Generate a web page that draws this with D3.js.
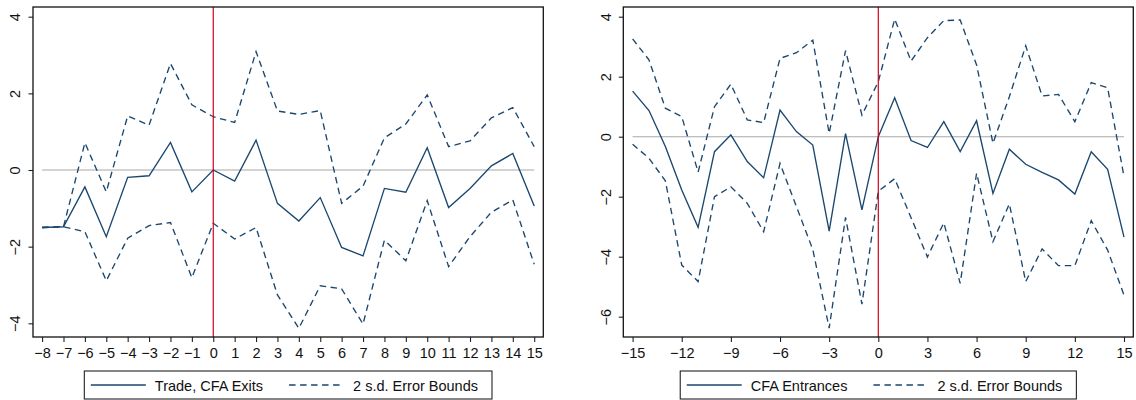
<!DOCTYPE html>
<html>
<head>
<meta charset="utf-8">
<script src="https://cdn.jsdelivr.net/npm/d3@7/dist/d3.min.js"></script>
<style>
  html, body { margin: 0; padding: 0; background: #fff; }
  svg { display: block; }
  text { font-family: "Liberation Sans", Arial, Helvetica, sans-serif; fill: #111; }
</style>
</head>
<body>
<svg id="chart" width="1136" height="400"></svg>
<script>
// ---------------- data ----------------
const leftX = [-8,-7,-6,-5,-4,-3,-2,-1,0,1,2,3,4,5,6,7,8,9,10,11,12,13,14,15];
const leftCoef  = [-1.50,-1.48,-0.44,-1.74,-0.19,-0.15,0.72,-0.57,0.00,-0.29,0.78,-0.87,-1.33,-0.72,-2.02,-2.24,-0.48,-0.58,0.58,-0.98,-0.48,0.11,0.43,-0.94];
const leftUpper = [-1.50,-1.48,0.71,-0.57,1.41,1.17,2.78,1.70,1.39,1.24,3.09,1.54,1.45,1.55,-0.87,-0.42,0.84,1.20,1.96,0.61,0.76,1.36,1.63,0.61];
const leftLower = [-1.50,-1.48,-1.61,-2.89,-1.78,-1.45,-1.37,-2.81,-1.39,-1.80,-1.50,-3.26,-4.13,-3.02,-3.10,-4.02,-1.83,-2.37,-0.80,-2.52,-1.74,-1.10,-0.78,-2.46];
const leftXTicks = [-8,-7,-6,-5,-4,-3,-2,-1,0,1,2,3,4,5,6,7,8,9,10,11,12,13,14,15];
const leftYTicks = [-4,-2,0,2,4];
const leftLegend = ["Trade, CFA Exits", "2 s.d. Error Bounds"];

const rightX = [-15,-14,-13,-12,-11,-10,-9,-8,-7,-6,-5,-4,-3,-2,-1,0,1,2,3,4,5,6,7,8,9,10,11,12,13,14,15];
const rightCoef  = [1.52,0.87,-0.33,-1.78,-3.02,-0.50,0.06,-0.83,-1.37,0.89,0.17,-0.28,-3.15,0.10,-2.44,0.00,1.30,-0.13,-0.36,0.50,-0.50,0.53,-1.89,-0.42,-0.92,-1.19,-1.44,-1.91,-0.50,-1.09,-3.35];
const rightUpper = [3.26,2.56,0.95,0.67,-1.18,1.00,1.75,0.56,0.47,2.61,2.80,3.22,0.11,2.87,0.72,1.83,3.92,2.52,3.30,3.87,3.89,2.39,-0.22,1.33,3.03,1.36,1.41,0.50,1.80,1.63,-1.33];
const rightLower = [-0.25,-0.72,-1.47,-4.28,-4.83,-2.00,-1.67,-2.22,-3.17,-0.89,-2.33,-3.76,-6.38,-2.69,-5.58,-1.82,-1.40,-2.70,-4.01,-2.87,-4.89,-1.22,-3.50,-2.24,-4.83,-3.74,-4.30,-4.30,-2.80,-3.78,-5.28];
const rightXTicks = [-15,-12,-9,-6,-3,0,3,6,9,12,15];
const rightYTicks = [-6,-4,-2,0,2,4];
const rightLegend = ["CFA Entrances", "2 s.d. Error Bounds"];

// ---------------- drawing ----------------
const svg = d3.select("#chart");
const NAVY = "#1a476f";
const FONT = 14.5;

function panel(cfg) {
  const g = svg.append("g");
  const x = d3.scaleLinear().domain(d3.extent(cfg.xs)).range([cfg.left + cfg.padX, cfg.right - cfg.padX]);
  const y = d3.scaleLinear().domain(cfg.yDomain).range([cfg.bottom, cfg.top]);

  // zero line
  g.append("line")
    .attr("x1", x(d3.min(cfg.xs))).attr("x2", x(d3.max(cfg.xs)))
    .attr("y1", y(0)).attr("y2", y(0))
    .attr("stroke", "#a8a8a8").attr("stroke-width", 1.1);

  const line = d3.line().x(d => x(d[0])).y(d => y(d[1]));
  const series = [
    {vals: cfg.upper, dash: "6.5,4.5"},
    {vals: cfg.lower, dash: "6.5,4.5"},
    {vals: cfg.coef, dash: null}
  ];
  series.forEach(s => {
    g.append("path")
      .datum(cfg.xs.map((xv, i) => [xv, s.vals[i]]))
      .attr("d", line)
      .attr("fill", "none")
      .attr("stroke", NAVY)
      .attr("stroke-width", 1.35)
      .attr("stroke-linejoin", "miter")
      .attr("stroke-dasharray", s.dash);
  });

  // red vertical line at 0
  g.append("line")
    .attr("x1", x(0)).attr("x2", x(0))
    .attr("y1", cfg.top).attr("y2", cfg.bottom)
    .attr("stroke", "#d0021b").attr("stroke-width", 1.2);

  // axes
  const xAxis = g.append("g")
    .attr("transform", `translate(0,${cfg.bottom})`)
    .call(d3.axisBottom(x).tickValues(cfg.xTicks).tickSize(5).tickPadding(5.7).tickFormat(d3.format("d")));
  xAxis.select(".domain").remove();
  xAxis.selectAll("text").style("font-size", FONT + "px").attr("fill", "#111")
       .style("font-family", '"Liberation Sans", Arial, sans-serif');
  xAxis.selectAll("line").attr("stroke", "#222").attr("stroke-width", 1.1);

  const yAxis = g.append("g")
    .attr("transform", `translate(${cfg.left},0)`)
    .call(d3.axisLeft(y).tickValues(cfg.yTicks).tickSize(4.5).tickFormat(d3.format("d")));
  yAxis.select(".domain").remove();
  yAxis.selectAll("line").attr("stroke", "#222").attr("stroke-width", 1.1);
  yAxis.selectAll("text")
    .attr("x", null).attr("dy", null)
    .attr("text-anchor", "middle")
    .attr("transform", `translate(${-cfg.yLabOff},0) rotate(-90)`)
    .attr("fill", "#111")
    .style("font-size", FONT + "px")
    .style("font-family", '"Liberation Sans", Arial, sans-serif');

  // frame
  g.append("rect")
    .attr("x", cfg.left).attr("y", cfg.top)
    .attr("width", cfg.right - cfg.left).attr("height", cfg.bottom - cfg.top)
    .attr("fill", "none").attr("stroke", "#111").attr("stroke-width", 1.3);

  // legend
  const lg = g.append("g");
  const sample = 55, gapT = 9, gapItem = 26, padL = 6.5, padR = 14;
  const ly = 385;
  const t1 = lg.append("text").text(cfg.legend[0]).style("font-size", FONT + "px");
  const t2 = lg.append("text").text(cfg.legend[1]).style("font-size", FONT + "px");
  const w1 = t1.node().getComputedTextLength();
  const w2 = t2.node().getComputedTextLength();
  const boxW = padL + sample + gapT + w1 + gapItem + sample + gapT + w2 + padR;
  const cx = (cfg.left + cfg.right) / 2;
  const bx = cx - boxW / 2;
  lg.insert("rect", "text")
    .attr("x", bx).attr("y", 371).attr("width", boxW).attr("height", 28)
    .attr("fill", "#fff").attr("stroke", "#222").attr("stroke-width", 1.1);
  let px = bx + padL;
  lg.append("line").attr("x1", px).attr("x2", px + sample).attr("y1", ly).attr("y2", ly)
    .attr("stroke", NAVY).attr("stroke-width", 1.35);
  t1.attr("x", px + sample + gapT).attr("y", ly + 5.5);
  px = px + sample + gapT + w1 + gapItem;
  lg.append("line").attr("x1", px).attr("x2", px + sample).attr("y1", ly).attr("y2", ly)
    .attr("stroke", NAVY).attr("stroke-width", 1.35).attr("stroke-dasharray", "6.5,4.5");
  t2.attr("x", px + sample + gapT).attr("y", ly + 5.5);
}

panel({
  xs: leftX, coef: leftCoef, upper: leftUpper, lower: leftLower,
  xTicks: leftXTicks, yTicks: leftYTicks, legend: leftLegend,
  left: 33, right: 543.3, top: 7, bottom: 337, padX: 9.1,
  yDomain: [-4.357, 4.253], yLabOff: 13
});

panel({
  xs: rightX, coef: rightCoef, upper: rightUpper, lower: rightLower,
  xTicks: rightXTicks, yTicks: rightYTicks, legend: rightLegend,
  left: 623.3, right: 1133.3, top: 7, bottom: 337, padX: 9.3,
  yDomain: [-6.677, 4.323], yLabOff: 12
});
</script>
</body>
</html>
